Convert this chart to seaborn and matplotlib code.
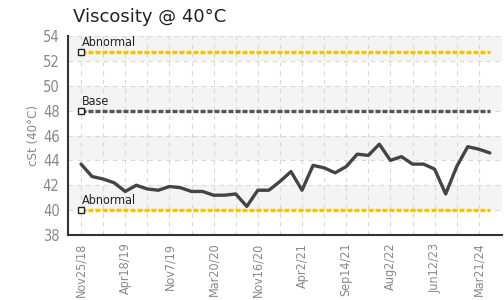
import matplotlib
matplotlib.use("Agg")
import matplotlib.pyplot as plt
import seaborn as sns
import numpy as np
import pandas as pd
from matplotlib import font_manager

sns.set_style("white")

# ---- data ----
sample_index = list(range(38))
viscosity = [43.7, 42.7, 42.5, 42.2, 41.5, 42.0, 41.7, 41.6, 41.9, 41.8,
             41.5, 41.5, 41.2, 41.2, 41.3, 40.3, 41.6, 41.6, 42.3, 43.1,
             41.6, 43.6, 43.4, 43.0, 43.5, 44.5, 44.4, 45.3, 44.0, 44.3,
             43.7, 43.7, 43.3, 41.3, 43.5, 45.1, 44.9, 44.6]
tick_positions = [0, 4, 8, 12, 16, 20, 24, 28, 32, 36]
tick_labels = ["Nov25/18", "Apr18/19", "Nov7/19", "Mar20/20", "Nov16/20",
               "Apr2/21", "Sep14/21", "Aug2/22", "Jun12/23", "Mar21/24"]
limit_names = ["Abnormal", "Base", "Abnormal"]
limit_values = [52.7, 48.0, 40.0]
limit_colors = ["#f5c400", "#555555", "#f5c400"]
y_ticks = list(range(38, 55, 2))

names = set(f.name for f in font_manager.fontManager.ttflist)
if "Liberation Sans Narrow" in names:
    FP = dict(family="Liberation Sans Narrow")
else:
    FP = dict(family="DejaVu Sans", stretch="condensed")

df = pd.DataFrame({"idx": sample_index, "cst": viscosity})

fig = plt.figure(figsize=(5.04, 3.0), dpi=100)
ax = fig.add_axes([68/504, 1-235/300, (502-68)/504, (235-36)/300])

# alternating bands
for lo in [40, 44, 48, 52]:
    ax.axhspan(lo, lo + 2, color="#f4f4f4", zorder=0, lw=0)

# grid
for yv in y_ticks:
    ax.axhline(yv, color="#d8d8d8", lw=0.8, ls=(0, (4, 4)), zorder=1)
for xv in range(0, 38, 2):
    ax.axvline(xv, color="#d8d8d8", lw=0.8, ls=(0, (4, 4)), zorder=1)

# limit lines
for name, val, col in zip(limit_names, limit_values, limit_colors):
    ax.plot([sample_index[0], sample_index[-1]], [val, val], color=col, lw=2.4,
            ls=(0, (1.5, 0.6)), zorder=2)
    ax.plot([sample_index[0]], [val], marker="s", ms=4.5, mfc="white",
            mec="#222222", mew=1.0, zorder=4, clip_on=False)
    ax.text(sample_index[0] + 0.05, val + 0.25, name, fontsize=9,
            color="#222222", ha="left", va="bottom", zorder=5, **FP)

sns.lineplot(data=df, x="idx", y="cst", ax=ax, color="#444444", lw=2.4, zorder=3)

ax.set_xlim(-1.18, 38.1)
ax.set_ylim(38, 54)
ax.set_yticks(y_ticks)
ax.set_xticks(tick_positions)
ax.set_xticklabels(tick_labels, rotation=90, fontsize=9, color="#888888", **FP)
for lab in ax.get_yticklabels():
    lab.set_fontsize(10.5)
    lab.set_color("#888888")
    lab.set_family(FP["family"])
    if "stretch" in FP:
        lab.set_stretch(FP["stretch"])
ax.tick_params(axis="y", direction="out", length=4, width=1.2, color="#333333", pad=2)
ax.tick_params(axis="x", direction="inout", length=8, width=1.2, color="#333333", pad=1.5)
ax.set_xlabel("")
ax.set_ylabel("cSt (40°C)", fontsize=9.5, color="#888888", labelpad=2, **FP)

for s in ["top", "right"]:
    ax.spines[s].set_visible(False)
for s in ["left", "bottom"]:
    ax.spines[s].set_color("#333333")
    ax.spines[s].set_linewidth(1.5)

fig.text(73/504, 1-17/300, "Viscosity @ 40°C", fontsize=13, color="#222222",
         ha="left", va="center")

fig.savefig("out.png", dpi=100)
